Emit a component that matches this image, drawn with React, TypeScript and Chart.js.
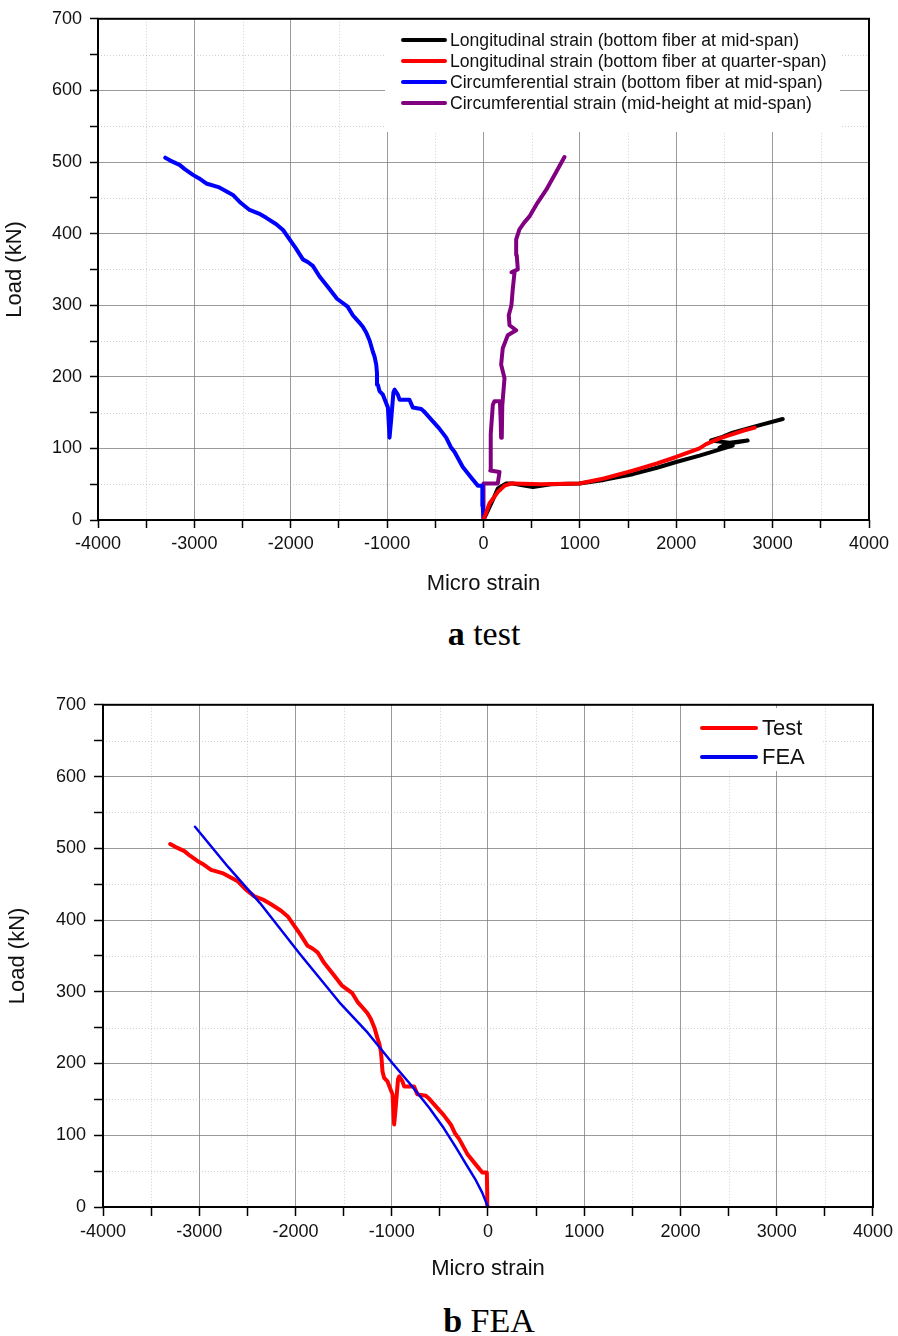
import React, { useEffect, useRef } from 'react';
import { Chart, registerables } from 'chart.js';

Chart.register(...registerables);

// ---------- tick values ----------
const xTickValues = [-4000, -3500, -3000, -2500, -2000, -1500, -1000, -500, 0, 500, 1000, 1500, 2000, 2500, 3000, 3500, 4000];
const yTickValues = [0, 50, 100, 150, 200, 250, 300, 350, 400, 450, 500, 550, 600, 650, 700];
const xMajorStep = 1000;
const yMajorStep = 100;

// ---------- series (micro strain, load kN) ----------
const longBottomMid: [number, number][] = [
  [0, 0], [97, 28], [148, 44], [235, 51], [304, 51], [420, 48], [512, 46], [700, 50], [996, 51],
  [1250, 56], [1549, 64], [1800, 73], [1999, 81], [2241, 90], [2413, 97], [2586, 104], [2448, 101],
  [2517, 106], [2741, 111], [2552, 108], [2361, 111], [2480, 116], [2586, 122], [2800, 130], [3105, 141],
];

const longBottomQuarter: [number, number][] = [
  [0, 0], [62, 23], [148, 39], [220, 48], [287, 51], [304, 51], [600, 50], [996, 51], [1250, 58],
  [1549, 69], [1800, 79], [1999, 88], [2241, 100], [2310, 106], [2450, 114], [2586, 120], [2700, 125], [2815, 129],
];

const circBottomMid: [number, number][] = [
  [0, 0], [-8, 20], [-12, 48], [-24, 48], [-59, 48], [-120, 58], [-215, 74], [-300, 95], [-340, 102], [-387, 115],
  [-460, 128], [-560, 143], [-620, 152], [-646, 155], [-733, 157], [-768, 168], [-871, 168], [-889, 175],
  [-923, 182], [-935, 178], [-958, 140], [-975, 115], [-985, 140], [-992, 157], [-1044, 175], [-1079, 180],
  [-1096, 189], [-1105, 205], [-1113, 217], [-1130, 228], [-1148, 235], [-1180, 250], [-1217, 262],
  [-1252, 270], [-1290, 276], [-1356, 286], [-1410, 298], [-1520, 309], [-1600, 323], [-1701, 340],
  [-1771, 355], [-1820, 360], [-1874, 364], [-1950, 380], [-2012, 392], [-2080, 405], [-2150, 413],
  [-2254, 422], [-2330, 428], [-2427, 433], [-2520, 443], [-2600, 454], [-2750, 465], [-2877, 470],
  [-2950, 477], [-3015, 482], [-3100, 490], [-3154, 496], [-3250, 502], [-3302, 506],
];

const circMidHeight: [number, number][] = [
  [0, 0], [0, 51], [148, 51], [166, 67], [70, 69], [75, 120], [97, 161], [114, 166], [170, 166],
  [178, 140], [183, 115], [190, 118], [195, 160], [218, 198], [183, 217], [200, 240], [252, 258],
  [339, 265], [270, 272], [262, 286], [290, 300], [304, 323], [322, 346], [290, 346], [356, 350],
  [345, 370], [339, 392], [373, 406], [420, 415], [477, 424], [560, 443], [650, 461], [750, 485], [840, 507],
];

const feaCirc: [number, number][] = [
  [0, 0], [-60, 20], [-125, 37], [-230, 60], [-333, 83], [-460, 110], [-609, 138], [-800, 170],
  [-990, 200], [-1250, 243], [-1542, 285], [-1950, 352], [-2371, 424], [-2700, 474], [-3044, 530],
];

const labelsA = [
  'Longitudinal strain (bottom fiber at mid-span)',
  'Longitudinal strain (bottom fiber at quarter-span)',
  'Circumferential strain (bottom fiber at mid-span)',
  'Circumferential strain (mid-height at mid-span)',
];
const colorsA = ['#000000', '#ff0000', '#0000ff', '#800080'];
const labelsB = ['Test', 'FEA'];
const colorsB = ['#ff0000', '#0000ee'];

const FONT = '"Liberation Sans", Arial, sans-serif';
const MAJOR = 'rgba(120,120,120,0.75)';
const MINOR = 'rgba(170,170,170,0.55)';

const toXY = (arr: [number, number][]) => arr.map(([x, y]) => ({ x, y }));

type LegendSpec = {
  box: [number, number, number, number];
  lineX: [number, number];
  textX: number;
  rowsY: number[];
  labels: string[];
  colors: string[];
  fontSize: number;
  lineWidth: number;
};

function makeDecor(legend: LegendSpec) {
  return {
    id: 'decor',
    beforeDatasetsDraw(chart: any) {
      const { ctx, chartArea: a } = chart;
      const xs = chart.scales.x;
      const ys = chart.scales.y;
      ctx.save();
      ctx.strokeStyle = MINOR;
      ctx.lineWidth = 1;
      ctx.setLineDash([1, 2]);
      ctx.beginPath();
      for (const v of xTickValues) {
        if (v % xMajorStep !== 0) {
          const p = Math.round(xs.getPixelForValue(v)) + 0.5;
          ctx.moveTo(p, a.top);
          ctx.lineTo(p, a.bottom);
        }
      }
      for (const v of yTickValues) {
        if (v % yMajorStep !== 0) {
          const p = Math.round(ys.getPixelForValue(v)) + 0.5;
          ctx.moveTo(a.left, p);
          ctx.lineTo(a.right, p);
        }
      }
      ctx.stroke();
      ctx.setLineDash([]);
      // legend
      const [x1, y1, x2, y2] = legend.box;
      ctx.fillStyle = '#ffffff';
      ctx.fillRect(x1, y1, x2 - x1, y2 - y1);
      ctx.font = `${legend.fontSize}px ${FONT}`;
      ctx.textBaseline = 'middle';
      ctx.textAlign = 'left';
      legend.labels.forEach((lab, i) => {
        const y = legend.rowsY[i];
        ctx.strokeStyle = legend.colors[i];
        ctx.lineWidth = legend.lineWidth;
        ctx.lineCap = 'round';
        ctx.beginPath();
        ctx.moveTo(legend.lineX[0], y);
        ctx.lineTo(legend.lineX[1], y);
        ctx.stroke();
        ctx.fillStyle = '#111111';
        ctx.fillText(lab, legend.textX, y + 1);
      });
      ctx.restore();
    },
    afterDatasetsDraw(chart: any) {
      const { ctx, chartArea: a } = chart;
      ctx.save();
      ctx.strokeStyle = '#000000';
      ctx.lineWidth = 2;
      ctx.strokeRect(a.left, a.top, a.right - a.left, a.bottom - a.top);
      ctx.restore();
    },
  };
}

type Layout = {
  padTop: number;
  padRight: number;
  yWidth: number;
  xHeight: number;
  tickLen: number;
  xTickPad: number;
  yTickPad: number;
  tickFont: number;
  titleFont: number;
  xTitlePadBottom: number;
  yTitlePadTop: number;
};

function makeConfig(datasets: any[], lay: Layout, legend: LegendSpec): any {
  const gridColor = (ctx: any, step: number) =>
    ctx.tick && ctx.tick.value % step === 0 ? MAJOR : 'rgba(0,0,0,0)';
  return {
    type: 'scatter',
    data: { datasets },
    plugins: [makeDecor(legend)],
    options: {
      responsive: false,
      devicePixelRatio: 1,
      animation: false,
      events: [],
      layout: { padding: { top: lay.padTop, right: lay.padRight, left: 0, bottom: 0 } },
      plugins: { legend: { display: false }, tooltip: { enabled: false } },
      scales: {
        x: {
          type: 'linear',
          min: -4000,
          max: 4000,
          afterBuildTicks: (s: any) => {
            s.ticks = xTickValues.map((v) => ({ value: v }));
          },
          afterFit: (s: any) => {
            s.height = lay.xHeight;
          },
          ticks: {
            autoSkip: false,
            maxRotation: 0,
            padding: lay.xTickPad,
            color: '#111111',
            font: { family: FONT, size: lay.tickFont },
            callback: (v: number) => (v % xMajorStep === 0 ? String(v) : ''),
          },
          grid: {
            color: (c: any) => gridColor(c, xMajorStep),
            lineWidth: 1,
            drawTicks: true,
            tickLength: lay.tickLen,
            tickColor: '#000000',
            tickWidth: 1.5,
          },
          border: { display: false },
          title: {
            display: true,
            text: 'Micro strain',
            color: '#111111',
            font: { family: FONT, size: lay.titleFont },
            padding: { top: 0, bottom: lay.xTitlePadBottom },
          },
        },
        y: {
          type: 'linear',
          min: 0,
          max: 700,
          afterBuildTicks: (s: any) => {
            s.ticks = yTickValues.map((v) => ({ value: v }));
          },
          afterFit: (s: any) => {
            s.width = lay.yWidth;
          },
          ticks: {
            autoSkip: false,
            padding: lay.yTickPad,
            color: '#111111',
            font: { family: FONT, size: lay.tickFont },
            callback: (v: number) => (v % yMajorStep === 0 ? String(v) : ''),
          },
          grid: {
            color: (c: any) => gridColor(c, yMajorStep),
            lineWidth: 1,
            drawTicks: true,
            tickLength: lay.tickLen,
            tickColor: '#000000',
            tickWidth: 1.5,
          },
          border: { display: false },
          title: {
            display: true,
            text: 'Load (kN)',
            color: '#111111',
            font: { family: FONT, size: lay.titleFont },
            padding: { top: lay.yTitlePadTop, bottom: 0 },
          },
        },
      },
    },
  };
}

const lineDs = (label: string, data: [number, number][], color: string, width: number, order: number) => ({
  label,
  data: toXY(data),
  showLine: true,
  borderColor: color,
  backgroundColor: color,
  borderWidth: width,
  pointRadius: 0,
  pointHoverRadius: 0,
  tension: 0,
  borderJoinStyle: 'round',
  borderCapStyle: 'round',
  order,
});

function configA() {
  const datasets = [
    lineDs(labelsA[0], longBottomMid, colorsA[0], 4, 1),
    lineDs(labelsA[1], longBottomQuarter, colorsA[1], 4, 0),
    lineDs(labelsA[2], circBottomMid, colorsA[2], 4, 2),
    lineDs(labelsA[3], circMidHeight, colorsA[3], 4, 3),
  ];
  return makeConfig(
    datasets,
    {
      padTop: 14,
      padRight: 29,
      yWidth: 98,
      xHeight: 80,
      tickLen: 8,
      xTickPad: 5,
      yTickPad: 8,
      tickFont: 18,
      titleFont: 22,
      xTitlePadBottom: 3,
      yTitlePadTop: 2,
    },
    {
      box: [385, 15, 840, 132],
      lineX: [403, 445],
      textX: 450,
      rowsY: [40, 61, 82, 103],
      labels: labelsA,
      colors: colorsA,
      fontSize: 17.6,
      lineWidth: 4,
    }
  );
}

function configB() {
  const datasets = [
    lineDs(labelsB[0], circBottomMid, colorsB[0], 4, 1),
    lineDs(labelsB[1], feaCirc, colorsB[1], 2.5, 0),
  ];
  return makeConfig(
    datasets,
    {
      padTop: 13,
      padRight: 23,
      yWidth: 103,
      xHeight: 79,
      tickLen: 9,
      xTickPad: 5,
      yTickPad: 8,
      tickFont: 18,
      titleFont: 22,
      xTitlePadBottom: 4,
      yTitlePadTop: 5,
    },
    {
      box: [682, 22, 822, 85],
      lineX: [702, 756],
      textX: 762,
      rowsY: [42, 71],
      labels: labelsB,
      colors: colorsB,
      fontSize: 22,
      lineWidth: 4,
    }
  );
}

export default function App() {
  const refA = useRef<HTMLCanvasElement>(null);
  const refB = useRef<HTMLCanvasElement>(null);

  useEffect(() => {
    document.body.style.margin = '0';
    const a = new Chart(refA.current as HTMLCanvasElement, configA());
    const b = new Chart(refB.current as HTMLCanvasElement, configB());
    return () => {
      a.destroy();
      b.destroy();
    };
  }, []);

  const caption: React.CSSProperties = {
    position: 'absolute',
    left: 0,
    textAlign: 'center',
    fontFamily: '"Liberation Serif", "Times New Roman", serif',
    fontSize: 34,
    lineHeight: '34px',
    color: '#000',
    whiteSpace: 'pre',
  };

  return (
    <div style={{ position: 'relative', width: 898, height: 1336, background: '#fff', overflow: 'hidden' }}>
      <canvas
        ref={refA}
        width={898}
        height={600}
        style={{ position: 'absolute', left: 0, top: 0, width: 898, height: 600 }}
      />
      <div style={{ ...caption, top: 617, width: 968 }}>
        <b>a</b> test
      </div>
      <canvas
        ref={refB}
        width={898}
        height={600}
        style={{ position: 'absolute', left: 0, top: 686, width: 898, height: 600 }}
      />
      <div style={{ ...caption, top: 1304, width: 978 }}>
        <b>b</b> FEA
      </div>
    </div>
  );
}
